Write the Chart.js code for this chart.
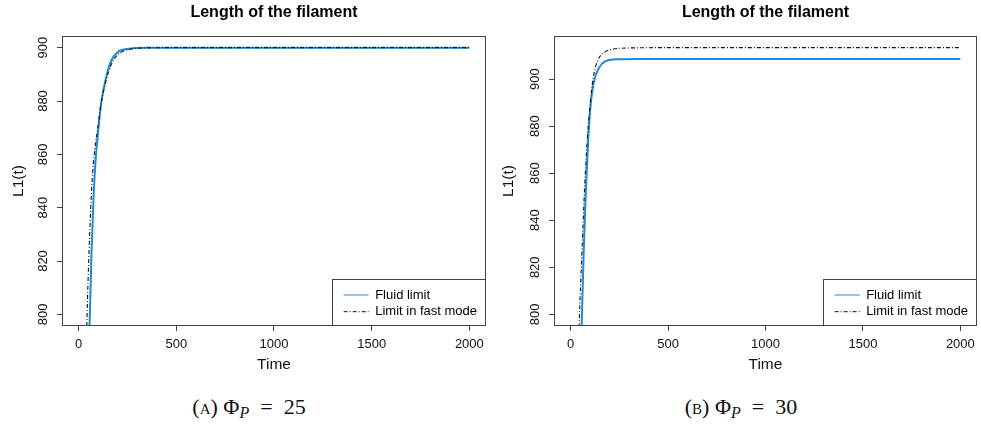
<!DOCTYPE html>
<html><head><meta charset="utf-8">
<script src="https://cdn.jsdelivr.net/npm/chart.js@4.4.1/dist/chart.umd.min.js"></script>
<style>
html,body{margin:0;padding:0;background:#fff;}
#wrap{position:relative;width:981px;height:428px;overflow:hidden;background:#fff;}
canvas{position:absolute;top:0;}
#cA{left:0;} #cB{left:490px;}
.cap{position:absolute;top:396px;width:300px;text-align:center;font-family:"Liberation Serif","DejaVu Serif",serif;font-size:22px;line-height:22px;color:#111;white-space:nowrap;}
.sc{font-variant:small-caps;}
.sub{font-style:italic;font-size:16px;position:relative;top:4px;}
</style></head><body>
<div id="wrap">
<canvas id="cA" width="490" height="385"></canvas>
<canvas id="cB" width="491" height="385"></canvas>
<div class="cap" style="left:99px">(<span class="sc">a</span>) Φ<span class="sub">P</span>&ensp;=&ensp;25</div>
<div class="cap" style="left:591px">(<span class="sc">b</span>) Φ<span class="sub">P</span>&ensp;=&ensp;30</div>
</div>
<script>
// ---- data ----
const seriesNames = ['Fluid limit', 'Limit in fast mode'];
const xTicks = [0, 500, 1000, 1500, 2000];
const yTicksA = [800, 820, 840, 860, 880, 900];
const yTicksB = [800, 820, 840, 860, 880, 900];

const timeFluidA   = [40, 56, 66, 76, 86, 98, 115, 141, 166, 199, 259, 344, 500, 1000, 1500, 2000];
const lengthFluidA = [740, 796, 823, 843, 857, 867, 879, 889, 895, 898.3, 899.6, 900, 900, 900, 900, 900];
const timeFastA    = [28, 42, 55, 69, 83, 98, 115, 141, 166, 199, 259, 344, 450, 1000, 1500, 2000];
const lengthFastA  = [745, 796, 827, 850, 862, 870, 879, 887.8, 893.5, 897.3, 899.3, 899.9, 900, 900, 900, 900];

const timeFluidB   = [46, 57, 67, 78, 91, 103, 120, 146, 179, 230, 349, 500, 1000, 1500, 2000];
const lengthFluidB = [765, 796, 826, 852, 875, 889, 899, 904.8, 907.6, 908.4, 908.6, 908.6, 908.6, 908.6, 908.6];
const timeFastB    = [32, 44, 58, 72, 86, 100, 115, 137, 171, 230, 349, 500, 1000, 1500, 2000];
const lengthFastB  = [760, 796, 826, 854, 875, 889, 900, 907.5, 911.2, 912.9, 913.3, 913.4, 913.4, 913.4, 913.4];

// ---- styling ----
const FONT = '"Liberation Sans", Arial, Helvetica, sans-serif';
const BLUE = '#1e8bd3';
const AX = '#444';
const TXT = '#111';
const DASH = [4, 2, 1, 2];

const framePlugin = {
  id: 'framePlugin',
  afterLayout(chart) {
    const lg = chart.legend, ca = chart.chartArea;
    if (!lg) return;
    lg.left = ca.right - 145;
    lg.top = ca.bottom - 40.2;
    lg.right = lg.left + 150;
    lg.bottom = ca.bottom + 100;
  },
  afterDraw(chart) {
    const ctx = chart.ctx, ca = chart.chartArea;
    ctx.save();
    ctx.strokeStyle = AX;
    ctx.lineWidth = 1;
    ctx.setLineDash([]);
    ctx.strokeRect(Math.round(ca.left) - 0.5, Math.round(ca.top) - 0.5,
                   Math.round(ca.right) - Math.round(ca.left) + 1, Math.round(ca.bottom) - Math.round(ca.top) + 1);
    ctx.strokeRect(Math.round(ca.right - 153) + 0.5, Math.round(ca.bottom - 46) + 0.5, 153, 46);
    ctx.restore();
  }
};

function pts(t, l) { return t.map((x, i) => ({ x: x, y: l[i] })); }

function makeChart(id, yAxisWidth, fluidT, fluidL, fastT, fastL, yMin, yMax, yTicks) {
  const axisCommon = {
    grid: { drawOnChartArea: false, drawTicks: true, tickLength: 6, color: AX, lineWidth: 1 },
    border: { display: false }
  };
  return new Chart(document.getElementById(id), {
    type: 'line',
    data: {
      datasets: [
        { label: seriesNames[0], data: pts(fluidT, fluidL), borderColor: BLUE, backgroundColor: BLUE,
          borderWidth: 2, pointRadius: 0, cubicInterpolationMode: 'monotone', clip: 0, order: 1, fill: false },
        { label: seriesNames[1], data: pts(fastT, fastL), borderColor: '#111', backgroundColor: '#111',
          borderWidth: 1.1, borderDash: DASH, pointRadius: 0, cubicInterpolationMode: 'monotone', clip: 0, order: 0, fill: false }
      ]
    },
    options: {
      responsive: false, animation: false, devicePixelRatio: 1,
      layout: { padding: { left: 0, right: 2, top: 0, bottom: 0 } },
      plugins: {
        title: { display: true, text: 'Length of the filament', fullSize: false, color: '#000',
          font: { family: FONT, size: 16, weight: 'bold' }, padding: { top: 2.5, bottom: 15.3 } },
        legend: {
          position: 'chartArea', align: 'start',
          labels: {
            font: { family: FONT, size: 13 }, color: '#000',
            usePointStyle: true, pointStyle: 'line', pointStyleWidth: 25, padding: 3.7,
            sort: (a, b) => a.datasetIndex - b.datasetIndex,
            generateLabels: (chart) => Chart.defaults.plugins.legend.labels.generateLabels(chart)
              .map(it => {
                const ds = chart.data.datasets[it.datasetIndex];
                return Object.assign(it, { lineWidth: 1, strokeStyle: ds.borderColor, lineDash: ds.borderDash || [] });
              })
          }
        },
        tooltip: { enabled: false }
      },
      scales: {
        x: Object.assign({}, axisCommon, {
          type: 'linear', min: -80, max: 2080,
          afterBuildTicks: s => { s.ticks = xTicks.map(v => ({ value: v })); },
          afterFit: s => { s.height = 60; },
          ticks: { padding: 6, color: TXT, font: { family: FONT, size: 13 }, maxRotation: 0, autoSkip: false,
                   callback: v => String(v) },
          title: { display: true, text: 'Time', color: TXT, font: { family: FONT, size: 15.5 },
                   padding: { top: 0, bottom: 11.2 } }
        }),
        y: Object.assign({}, axisCommon, {
          type: 'linear', min: yMin, max: yMax,
          afterBuildTicks: s => { s.ticks = yTicks.map(v => ({ value: v })); },
          afterFit: s => { s.width = yAxisWidth; },
          ticks: { padding: 3.15, crossAlign: 'center', minRotation: 90, maxRotation: 90, color: TXT,
                   font: { family: FONT, size: 13 }, autoSkip: false, callback: v => String(v) },
          title: { display: true, text: 'L1(t)', color: TXT, font: { family: FONT, size: 15.5 },
                   padding: { top: 9, bottom: 0 } }
        })
      }
    },
    plugins: [framePlugin]
  });
}

makeChart('cA', 63, timeFluidA, lengthFluidA, timeFastA, lengthFastA, 796, 904, yTicksA);
makeChart('cB', 65, timeFluidB, lengthFluidB, timeFastB, lengthFastB, 795.46, 917.9, yTicksB);
</script>
</body></html>
